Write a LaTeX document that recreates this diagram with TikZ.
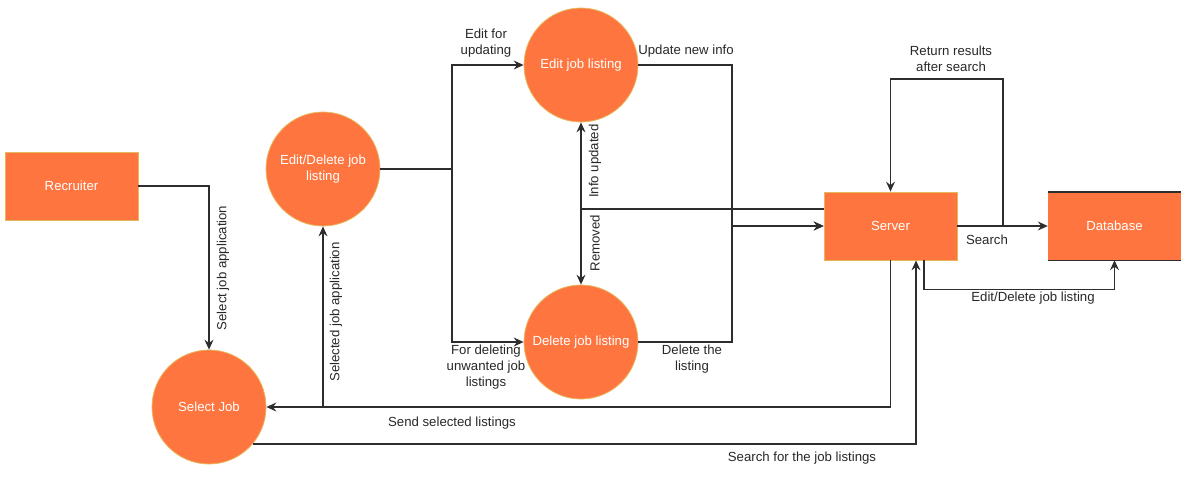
\documentclass[tikz,border=0pt]{standalone}
\usepackage{fontspec}
\setmainfont{Liberation Sans}
\usetikzlibrary{arrows.meta}
\definecolor{orfill}{RGB}{255,117,64}
\definecolor{orline}{RGB}{230,184,92}
\definecolor{edgec}{RGB}{45,45,45}
\definecolor{lblc}{RGB}{40,40,40}
\begin{document}
\begin{tikzpicture}[x=1pt,y=-1pt,
  font=\fontsize{13.2}{16}\selectfont,
  proc/.style={circle, fill=orfill, draw=orline, line width=0.8pt, minimum size=114pt, inner sep=0pt, text=white, align=center},
  ent/.style={rectangle, fill=orfill, draw=orline, line width=0.8pt, minimum width=133pt, minimum height=68pt, text=white},
  store/.style={rectangle, fill=orfill, minimum width=133pt, minimum height=68pt, text=white},
  flow/.style={draw=edgec, line width=1.2pt, -{Stealth[length=10pt,width=9pt,inset=3.5pt]}},
  wire/.style={draw=edgec, line width=1.2pt},
  lab/.style={text=lblc, align=center, inner sep=0pt}]
\useasboundingbox (0,0) rectangle (1196,480);

% nodes
\node[ent] (rec) at (71.5,186) {Recruiter};
\node[proc] (sel) at (209,407) {Select Job};
\node[proc] (ed) at (323,169) {Edit/Delete job\\listing};
\node[proc] (edit) at (581,65) {Edit job listing};
\node[proc] (del) at (581,342) {Delete job listing};
\node[ent] (srv) at (890.5,226) {Server};
\node[store] (db) at (1114.5,226) {Database};
\draw[draw=edgec, line width=1.4pt] (db.north west) -- (db.north east);
\draw[draw=edgec, line width=1.4pt] (db.south west) -- (db.south east);

% junction coordinates
\coordinate (j1) at (323,407);
\coordinate (j2) at (452,169);
\coordinate (j3) at (732,226);
\coordinate (j4) at (581,209);
\coordinate (j5) at (1003,226);
\coordinate (t1) at (1003,79);
\coordinate (s1) at ([yshift=17pt]srv.west);
\coordinate (s2) at ([xshift=33.5pt]srv.south);
\coordinate (s3) at ([xshift=25.5pt]srv.south);

% connectors
\draw[flow] (rec.east) -| (sel.north);
\draw[flow] (srv.south) |- (sel.east);
\draw[flow] (j1) -- (ed.south);
\draw[wire] (ed.east) -- (j2);
\draw[flow] (j2) |- (edit.west);
\draw[flow] (j2) |- (del.west);
\draw[flow] (edit.east) -| (j3) -- (srv.west);
\draw[flow] (del.east) -| (j3) -- (srv.west);
\draw[wire, line width=1.6pt] (s1) -- (j4);
\draw[flow] (j4) -- (edit.south);
\draw[flow] (j4) -- (del.north);
\draw[flow] (srv.east) -- (db.west);
\draw[flow] (j5) -- (t1) -| (srv.north);
\draw[flow] (s2) -- ++(0,29) -| (db.south);
\draw[flow] (sel.-40) -| (s3);

% labels
\node[lab, rotate=90] (l1) at (223,268) {Select job application};
\node[lab] (l2) at (452,423) {Send selected listings};
\node[lab, rotate=90] (l3) at (336,312) {Selected job application};
\node[lab] (l4) at (486,43) {Edit for\\updating};
\node[lab] (l5) at (486,367) {For deleting\\unwanted job\\listings};
\node[lab] (l6) at (686,51) {Update new info};
\node[lab] (l7) at (692,359) {Delete the\\listing};
\node[lab, rotate=90] (l8) at (595,161) {Info updated};
\node[lab, rotate=90] (l9) at (595,243) {Removed};
\node[lab] (l10) at (951,59) {Return results\\after search};
\node[lab] (l11) at (987,240) {Search};
\node[lab] (l12) at (1033,298) {Edit/Delete job listing};
\node[lab] (l13) at (802,458) {Search for the job listings};
\end{tikzpicture}
\end{document}
